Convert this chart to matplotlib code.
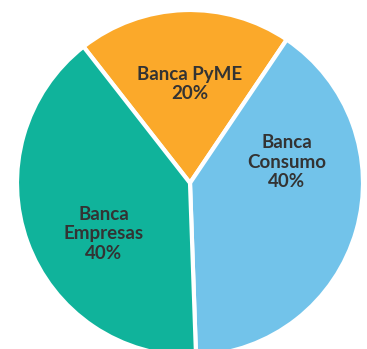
import matplotlib.pyplot as plt
import matplotlib as mpl

mpl.rcParams['font.family'] = ['Lato', 'DejaVu Sans']

# data
labels = ['Banca PyME', 'Banca\nConsumo', 'Banca\nEmpresas']
shares = [20, 40, 40]
colors = ['#FBA92A', '#72C3EA', '#10B39B']

fig = plt.figure(figsize=(3.67, 3.49), dpi=100)
ax = fig.add_axes([0, 0, 1, 1])

# 1 data unit = 1 pixel, pie centre at (190, 183) from top-left
ax.pie(shares, colors=colors, radius=173, startangle=128, counterclock=False,
       wedgeprops=dict(edgecolor='white', linewidth=3))

ax.set_xlim(-190, 177)
ax.set_ylim(-166, 183)
ax.set_aspect('equal')
ax.axis('off')

# label placement (pixels relative to centre)
spots = [(0, 99), (97, 21), (-86, -51)]
for lab, val, (x, y) in zip(labels, shares, spots):
    ax.text(x, y, f'{lab}\n{val}%', ha='center', va='center',
            fontsize=13.5, fontweight='bold', color='#333333',
            linespacing=1.15)

plt.savefig('out.png', dpi=100)
